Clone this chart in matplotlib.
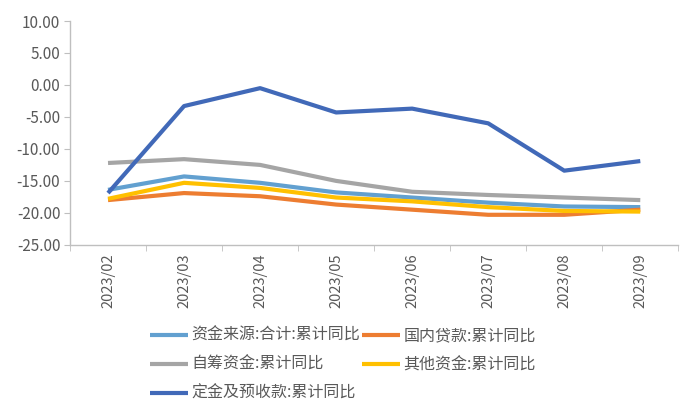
import numpy as np
import matplotlib
matplotlib.use("Agg")
import matplotlib.pyplot as plt

plt.rcParams['font.family'] = ['Noto Sans CJK SC', 'DejaVu Sans']

# data
months = ["2023/02", "2023/03", "2023/04", "2023/05", "2023/06", "2023/07", "2023/08", "2023/09"]
total = [-16.4, -14.3, -15.3, -16.8, -17.6, -18.4, -19.0, -19.1]       # 资金来源:合计
loans = [-18.0, -16.9, -17.4, -18.7, -19.5, -20.3, -20.3, -19.5]       # 国内贷款
selfraised = [-12.2, -11.6, -12.5, -15.0, -16.7, -17.2, -17.6, -18.0]  # 自筹资金
other = [-17.8, -15.3, -16.1, -17.6, -18.2, -19.1, -19.7, -19.8]       # 其他资金
deposits = [-16.9, -3.3, -0.5, -4.3, -3.7, -6.0, -13.4, -11.9]         # 定金及预收款

names = ["资金来源:合计:累计同比", "国内贷款:累计同比", "自筹资金:累计同比",
         "其他资金:累计同比", "定金及预收款:累计同比"]
colors = ["#62A0D0", "#ED7D31", "#A5A5A5", "#FFC000", "#4169B8"]
yticks = [10, 5, 0, -5, -10, -15, -20, -25]

fig = plt.figure(figsize=(7, 4.2), dpi=100)
ax = fig.add_axes([0.1, 0.417, 0.869, 0.533])

x = np.arange(len(months))
lines = []
for vals, nm, c in zip([total, loans, selfraised, other, deposits], names, colors):
    ln, = ax.plot(x, vals, color=c, lw=3.0, label=nm, solid_capstyle='butt')
    lines.append(ln)

ax.set_xlim(-0.5, len(months) - 0.5)
ax.set_ylim(-25, 10)
ax.set_yticks(yticks)
ax.set_yticklabels(["%.2f" % v for v in yticks], fontsize=11, color="#595959")
ax.set_xticks(x)
ax.set_xticklabels(months, rotation=90, fontsize=10.5, color="#595959")
ax.set_xticks(np.arange(-0.5, len(months)), minor=True)
ax.tick_params(axis='x', which='major', length=0, pad=6)
ax.tick_params(axis='x', which='minor', length=4, color="#BFBFBF")
ax.tick_params(axis='y', length=4, color="#BFBFBF", pad=3)
for s in ['top', 'right']:
    ax.spines[s].set_visible(False)
for s in ['left', 'bottom']:
    ax.spines[s].set_color("#BFBFBF")
    ax.spines[s].set_linewidth(1.0)

order = [0, 2, 4, 1, 3]
fig.legend([lines[i] for i in order], [names[i] for i in order],
           loc='upper left', bbox_to_anchor=(0.198, 1 - 316 / 420), ncol=2,
           frameon=False, fontsize=11.5, handlelength=2.4, columnspacing=0.1,
           handletextpad=0.2, labelspacing=0.75, labelcolor="#595959",
           borderpad=0.2)

fig.savefig("out.png", dpi=100)
